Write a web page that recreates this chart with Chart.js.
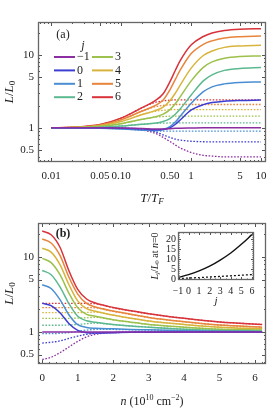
<!DOCTYPE html>
<html>
<head>
<meta charset="utf-8">
<script src="https://cdn.jsdelivr.net/npm/chart.js@4.4.0/dist/chart.umd.min.js"></script>
<style>
  body { margin: 0; background: #fff; }
  #wrap { position: relative; width: 272px; height: 409px; }
  canvas { position: absolute; }
</style>
</head>
<body>
<div id="wrap">
  <canvas id="chartA" width="272" height="205" style="left:0;top:0"></canvas>
  <canvas id="chartB" width="272" height="204" style="left:0;top:205px"></canvas>
  <canvas id="chartC" width="112" height="86" style="left:148px;top:226px"></canvas>
</div>
<script>
// ---- values ----
const J = [-1, 0, 1, 2, 3, 4, 5, 6];
const jLabels = ['\u22121', '0', '1', '2', '3', '4', '5', '6'];
const colors = ['#8a2ea2', '#3b3dd3', '#4a8ed2', '#5cb98f', '#9cc14c', '#d9b43d', '#e8843c', '#d8333a'];

// panel (a): L/L0 against T/T_F
const T = [0.01, 0.02, 0.05, 0.1, 0.2, 0.3, 0.4, 0.5, 0.6, 0.7, 1, 1.5, 2, 3, 5, 10];
const tSolid = [
  [1, 1, 1, 0.995, 0.98, 0.965, 0.965, 0.975, 0.985, 0.99, 0.995, 1, 1, 1, 1, 1],          // j=-1
  [1, 1, 0.999, 0.99, 0.97, 0.94, 0.95, 1.0, 1.12, 1.28, 1.75, 2.08, 2.22, 2.32, 2.37, 2.4], // j=0
  [1, 0.998, 0.99, 0.965, 0.93, 0.914, 0.947, 1.04, 1.21, 1.44, 2.15, 3.13, 3.65, 4.01, 4.2, 4.27],
  [1, 1.003, 1.02, 1.06, 1.12, 1.155, 1.22, 1.34, 1.55, 1.81, 2.8, 4.41, 5.34, 6.14, 6.52, 6.7],
  [1, 1.007, 1.05, 1.14, 1.31, 1.41, 1.54, 1.78, 2.16, 2.66, 4.37, 6.76, 8.02, 9.0, 9.52, 9.7],
  [1, 1.01, 1.07, 1.22, 1.52, 1.71, 1.93, 2.35, 3.02, 3.85, 6.54, 9.82, 11.3, 12.7, 13.3, 13.6],
  [1, 1.015, 1.09, 1.29, 1.7, 2.0, 2.41, 3.33, 4.66, 6.17, 10.37, 14.0, 15.6, 17.05, 17.8, 18.2],
  [1, 1.02, 1.11, 1.36, 1.89, 2.32, 2.93, 4.3, 6.22, 8.33, 13.65, 17.9, 20.0, 21.6, 22.5, 22.9]  // j=6
];
const tDotted = [
  [1, 1, 0.998, 0.985, 0.93, 0.85, 0.74, 0.65, 0.58, 0.53, 0.46, 0.42, 0.41, 0.4, 0.4, 0.4],
  [1, 1, 0.999, 0.99, 0.96, 0.89, 0.8, 0.74, 0.7, 0.68, 0.655, 0.645, 0.64, 0.64, 0.64, 0.64],
  [1, 0.998, 0.99, 0.965, 0.93, 0.91, 0.904, 0.901, 0.9, 0.9, 0.9, 0.9, 0.9, 0.9, 0.9, 0.9],
  [1, 1.003, 1.02, 1.06, 1.12, 1.15, 1.16, 1.168, 1.17, 1.17, 1.17, 1.17, 1.17, 1.17, 1.17, 1.17],
  [1, 1.007, 1.05, 1.14, 1.31, 1.4, 1.43, 1.445, 1.45, 1.45, 1.45, 1.45, 1.45, 1.45, 1.45, 1.45],
  [1, 1.01, 1.07, 1.22, 1.52, 1.68, 1.74, 1.77, 1.78, 1.78, 1.78, 1.78, 1.78, 1.78, 1.78, 1.78],
  [1, 1.015, 1.09, 1.29, 1.7, 1.94, 2.03, 2.07, 2.09, 2.09, 2.09, 2.09, 2.09, 2.09, 2.09, 2.09],
  [1, 1.02, 1.11, 1.36, 1.89, 2.22, 2.34, 2.4, 2.42, 2.42, 2.42, 2.42, 2.42, 2.42, 2.42, 2.42]
];
const tTicks = [0.01, 0.05, 0.1, 0.5, 1, 5, 10];
const tTickLabels = ['0.01', '0.05', '0.10', '0.50', '1', '5', '10'];
const tMinor = [0.007, 0.008, 0.009, 0.02, 0.03, 0.04, 0.06, 0.07, 0.08, 0.09,
  0.2, 0.3, 0.4, 0.6, 0.7, 0.8, 0.9, 2, 3, 4, 6, 7, 8, 9];

// panel (b): L/L0 against n
const N = [0, 0.25, 0.5, 0.75, 1, 1.25, 1.5, 2, 2.5, 3, 4, 5, 6.2];
const nSolid = [
  [1, 1, 1, 1, 1, 1, 1, 1, 1, 1, 1, 1, 1],
  [2.41, 2.25, 1.8, 1.3, 1.05, 0.98, 0.97, 0.98, 0.99, 0.995, 1, 1, 1],
  [4.27, 3.8, 2.7, 1.7, 1.25, 1.15, 1.12, 1.1, 1.08, 1.07, 1.04, 1.02, 1.01],
  [6.6, 5.8, 4.0, 2.4, 1.62, 1.41, 1.35, 1.26, 1.2, 1.16, 1.09, 1.05, 1.03],
  [9.6, 8.4, 5.8, 3.3, 2.1, 1.72, 1.62, 1.46, 1.35, 1.26, 1.16, 1.09, 1.06],
  [13.1, 11.6, 7.9, 4.3, 2.6, 2.05, 1.89, 1.68, 1.52, 1.4, 1.26, 1.16, 1.1],
  [17.4, 15.4, 10.5, 5.4, 3.2, 2.4, 2.15, 1.9, 1.72, 1.56, 1.37, 1.24, 1.16],
  [22.2, 19.8, 13.5, 6.6, 3.7, 2.75, 2.43, 2.12, 1.92, 1.75, 1.52, 1.36, 1.26]
];
const nDotted = [
  [0.43, 0.46, 0.53, 0.63, 0.75, 0.86, 0.93, 0.98, 0.99, 1, 1, 1, 1],
  [0.71, 0.73, 0.76, 0.82, 0.88, 0.93, 0.96, 0.98, 0.99, 0.995, 1, 1, 1],
  [0.95, 0.95, 0.96, 0.98, 1.02, 1.06, 1.08, 1.08, 1.07, 1.06, 1.04, 1.02, 1.01],
  [1.23, 1.23, 1.23, 1.24, 1.26, 1.29, 1.31, 1.25, 1.2, 1.16, 1.09, 1.05, 1.03],
  [1.52, 1.52, 1.52, 1.52, 1.53, 1.55, 1.57, 1.45, 1.35, 1.26, 1.16, 1.09, 1.06],
  [1.81, 1.81, 1.81, 1.81, 1.81, 1.82, 1.84, 1.67, 1.52, 1.4, 1.26, 1.16, 1.1],
  [2.11, 2.11, 2.11, 2.11, 2.11, 2.11, 2.1, 1.88, 1.71, 1.56, 1.37, 1.24, 1.16],
  [2.4, 2.4, 2.4, 2.4, 2.4, 2.4, 2.38, 2.1, 1.91, 1.75, 1.52, 1.36, 1.26]
];
const nTicks = [0, 1, 2, 3, 4, 5, 6];
const yTicks = [0.5, 1, 5, 10];
const yTickLabels = ['0.5', '1', '5', '10'];
const yMinor = [0.4, 0.6, 0.7, 0.8, 0.9, 2, 3, 4, 6, 7, 8, 9, 20];

// inset: L_j/L0 at n=0 against j
const insetSolid = [1, 2.41, 4.27, 6.6, 9.6, 13.1, 17.4, 22.2];
const insetDotted = [0.43, 0.71, 0.95, 1.23, 1.52, 1.81, 2.11, 2.4];
const insetYTicks = [0, 5, 10, 15, 20];

// ---- helpers ----
const SERIF = "'Liberation Serif', 'DejaVu Serif', serif";
const f = (size, style) => (style ? style + ' ' : '') + size + 'px ' + SERIF;

function drawRich(ctx, parts, x, y, rot) {
  ctx.save();
  ctx.translate(x, y);
  if (rot) ctx.rotate(rot);
  ctx.textBaseline = 'middle';
  ctx.textAlign = 'left';
  let w = 0;
  parts.forEach(p => { ctx.font = p.font; w += ctx.measureText(p.text).width; });
  let cx = -w / 2;
  parts.forEach(p => {
    ctx.font = p.font;
    ctx.fillText(p.text, cx, p.dy || 0);
    cx += ctx.measureText(p.text).width;
  });
  ctx.restore();
}

// frame with inward ticks on all four sides, plus titles drawn as rich text
const framePlugin = {
  id: 'frame',
  afterDraw(chart, args, o) {
    const {ctx, chartArea: a} = chart;
    const xs = chart.scales.x, ys = chart.scales.y;
    ctx.save();
    ctx.strokeStyle = '#555';
    ctx.lineWidth = 1;
    ctx.beginPath();
    const tick = (scale, v, len) => {
      const p = Math.round(scale.getPixelForValue(v)) + 0.5;
      if (scale.isHorizontal()) {
        if (p < a.left || p > a.right) return;
        ctx.moveTo(p, a.bottom); ctx.lineTo(p, a.bottom - len);
        ctx.moveTo(p, a.top); ctx.lineTo(p, a.top + len);
      } else {
        if (p < a.top || p > a.bottom) return;
        ctx.moveTo(a.left, p); ctx.lineTo(a.left + len, p);
        ctx.moveTo(a.right, p); ctx.lineTo(a.right - len, p);
      }
    };
    xs.ticks.forEach(t => tick(xs, t.value, o.major));
    (o.xMinor || []).forEach(v => tick(xs, v, o.minor));
    ys.ticks.forEach(t => tick(ys, t.value, o.major));
    (o.yMinor || []).forEach(v => tick(ys, v, o.minor));
    ctx.stroke();
    ctx.strokeStyle = '#666';
    ctx.lineWidth = 1.3;
    ctx.strokeRect(a.left + 0.5, a.top + 0.5, a.width - 1, a.height - 1);
    ctx.fillStyle = '#222';
    if (o.xTitle) drawRich(ctx, o.xTitle, (a.left + a.right) / 2, o.xTitleY, 0);
    if (o.yTitle) drawRich(ctx, o.yTitle, o.yTitleX, (a.top + a.bottom) / 2, -Math.PI / 2);
    if (o.tag) drawRich(ctx, [{text: o.tag.text, font: o.tag.font}], o.tag.x, o.tag.y, 0);
    ctx.restore();
  }
};

// two-column legend inside panel (a)
const legendPlugin = {
  id: 'jlegend',
  afterDraw(chart, args, o) {
    if (!o.show) return;
    const ctx = chart.ctx;
    ctx.save();
    ctx.fillStyle = '#222';
    drawRich(ctx, [{text: 'j', font: f(12, 'italic')}], o.titleX, o.titleY, 0);
    const solid = chart.data.datasets.filter(d => !d.dotted);
    solid.forEach((d, k) => {
      const col = Math.floor(k / 4), row = k % 4;
      const x = o.x[col], y = o.y0 + row * o.dy;
      ctx.strokeStyle = d.borderColor;
      ctx.lineWidth = 2;
      ctx.beginPath();
      ctx.moveTo(x, y); ctx.lineTo(x + o.len, y);
      ctx.stroke();
      ctx.font = f(12);
      ctx.textAlign = 'left';
      ctx.textBaseline = 'middle';
      ctx.fillText(d.label, x + o.len + 2, y);
    });
    ctx.restore();
  }
};

function lineSet(label, xs, ys, color, dotted) {
  return {
    label: label,
    data: xs.map((v, i) => ({x: v, y: ys[i]})),
    borderColor: color,
    borderWidth: dotted ? 1.3 : 1.5,
    borderDash: dotted ? [1.6, 1.6] : [],
    pointRadius: 0,
    fill: false,
    cubicInterpolationMode: 'monotone',
    order: dotted ? 1 : 0,
    dotted: dotted
  };
}

function fixedAxis(size, horizontal) {
  return s => {
    if (horizontal) s.height = size; else s.width = size;
    s.paddingLeft = 0; s.paddingRight = 0; s.paddingTop = 0; s.paddingBottom = 0;
  };
}

const tickFont = {family: SERIF, size: 11};
const noGrid = {display: false, drawTicks: false};

const yTitle = [
  {text: 'L', font: f(13, 'italic')},
  {text: '/', font: f(13)},
  {text: 'L', font: f(13, 'italic')},
  {text: '0', font: f(9), dy: 3}
];

function logY() {
  return {
    type: 'logarithmic', min: 0.34, max: 28.3, bounds: 'data',
    afterBuildTicks: s => { s.ticks = yTicks.map(v => ({value: v})); },
    afterFit: fixedAxis(38, false),
    ticks: {font: tickFont, color: '#222', padding: 4, autoSkip: false,
      callback: (v, i) => yTickLabels[i]},
    grid: noGrid, border: {display: false}
  };
}

// ---- panel (a) ----
const dsA = [];
J.forEach((j, k) => dsA.push(lineSet(jLabels[k], T, tSolid[k], colors[k], false)));
J.forEach((j, k) => dsA.push(lineSet(jLabels[k], T, tDotted[k], colors[k], true)));

new Chart(document.getElementById('chartA'), {
  type: 'line',
  data: {datasets: dsA},
  options: {
    responsive: false, animation: false,
    layout: {padding: {left: 0, top: 22, right: 6, bottom: 0}},
    scales: {
      x: {
        type: 'logarithmic', min: 0.0065, max: 11.8, bounds: 'data',
        afterBuildTicks: s => { s.ticks = tTicks.map(v => ({value: v})); },
        afterFit: fixedAxis(43, true),
        ticks: {font: tickFont, color: '#222', padding: 8, autoSkip: false, maxRotation: 0,
          callback: (v, i) => tTickLabels[i]},
        grid: noGrid, border: {display: false}
      },
      y: logY()
    },
    plugins: {
      legend: {display: false}, tooltip: {enabled: false},
      frame: {
        major: 4, minor: 2, xMinor: tMinor, yMinor: yMinor,
        xTitle: [
          {text: 'T', font: f(13, 'italic')},
          {text: '/', font: f(13)},
          {text: 'T', font: f(13, 'italic')},
          {text: 'F', font: f(9, 'italic'), dy: 3}
        ],
        xTitleY: 199,
        yTitle: yTitle, yTitleX: 10,
        tag: {text: '(a)', font: f(12), x: 63, y: 35}
      },
      jlegend: {show: true, titleX: 83, titleY: 46, x: [54, 92], y0: 57, dy: 13.4, len: 21}
    }
  },
  plugins: [framePlugin, legendPlugin]
});

// ---- panel (b) ----
const dsB = [];
J.forEach((j, k) => dsB.push(lineSet(jLabels[k], N, nSolid[k], colors[k], false)));
J.forEach((j, k) => dsB.push(lineSet(jLabels[k], N, nDotted[k], colors[k], true)));

const nMinor = [];
for (let v = 0.2; v < 6.3; v += 0.2) nMinor.push(+v.toFixed(1));

new Chart(document.getElementById('chartB'), {
  type: 'line',
  data: {datasets: dsB},
  options: {
    responsive: false, animation: false,
    layout: {padding: {left: 0, top: 18, right: 6, bottom: 0}},
    scales: {
      x: {
        type: 'linear', min: -0.12, max: 6.31, bounds: 'data',
        afterBuildTicks: s => { s.ticks = nTicks.map(v => ({value: v})); },
        afterFit: fixedAxis(45, true),
        ticks: {font: tickFont, color: '#222', padding: 8, autoSkip: false, maxRotation: 0,
          callback: (v, i) => String(nTicks[i])},
        grid: noGrid, border: {display: false}
      },
      y: Object.assign(logY(), {min: 0.374, max: 28.4})
    },
    plugins: {
      legend: {display: false}, tooltip: {enabled: false},
      frame: {
        major: 4, minor: 2, xMinor: nMinor, yMinor: yMinor,
        xTitle: [
          {text: 'n', font: f(12, 'italic')},
          {text: ' (10', font: f(12)},
          {text: '10', font: f(8), dy: -4},
          {text: ' cm', font: f(12)},
          {text: '\u22122', font: f(8), dy: -4},
          {text: ')', font: f(12)}
        ],
        xTitleY: 197,
        yTitle: yTitle, yTitleX: 10,
        tag: {text: '(b)', font: f(12, 'bold'), x: 63, y: 29}
      }
    }
  },
  plugins: [framePlugin]
});

// ---- inset ----
new Chart(document.getElementById('chartC'), {
  type: 'line',
  data: {datasets: [
    Object.assign(lineSet('n=0', J, insetSolid, '#111', false), {borderWidth: 1.4}),
    Object.assign(lineSet('n=0 dotted', J, insetDotted, '#111', true), {borderDash: [2, 2]})
  ]},
  options: {
    responsive: false, animation: false,
    layout: {padding: {left: 0, top: 6, right: 6, bottom: 0}},
    scales: {
      x: {
        type: 'linear', min: -1, max: 6.2, bounds: 'data',
        afterBuildTicks: s => { s.ticks = J.map(v => ({value: v})); },
        afterFit: fixedAxis(32, true),
        ticks: {font: {family: SERIF, size: 10}, color: '#222', padding: 5, autoSkip: false, maxRotation: 0,
          callback: (v, i) => jLabels[i]},
        grid: noGrid, border: {display: false}
      },
      y: {
        type: 'linear', min: -0.25, max: 23.5, bounds: 'data',
        afterBuildTicks: s => { s.ticks = insetYTicks.map(v => ({value: v})); },
        afterFit: fixedAxis(30, false),
        ticks: {font: {family: SERIF, size: 10}, color: '#222', padding: 2, autoSkip: false,
          callback: (v, i) => String(insetYTicks[i])},
        grid: noGrid, border: {display: false}
      }
    },
    plugins: {
      legend: {display: false}, tooltip: {enabled: false},
      frame: {
        major: 3, minor: 1.5,
        xMinor: [-0.5, 0.5, 1.5, 2.5, 3.5, 4.5, 5.5],
        yMinor: [1, 2, 3, 4, 6, 7, 8, 9, 11, 12, 13, 14, 16, 17, 18, 19, 21, 22, 23],
        xTitle: [{text: 'j', font: f(11, 'italic')}],
        xTitleY: 75,
        yTitle: [
          {text: 'L', font: f(10, 'italic')},
          {text: 'j', font: f(7, 'italic'), dy: 2.5},
          {text: '/', font: f(10)},
          {text: 'L', font: f(10, 'italic')},
          {text: '0', font: f(7), dy: 2.5},
          {text: ' at ', font: f(10)},
          {text: 'n', font: f(10, 'italic')},
          {text: '=0', font: f(10)}
        ],
        yTitleX: 7
      }
    }
  },
  plugins: [framePlugin]
});
</script>
</body>
</html>
